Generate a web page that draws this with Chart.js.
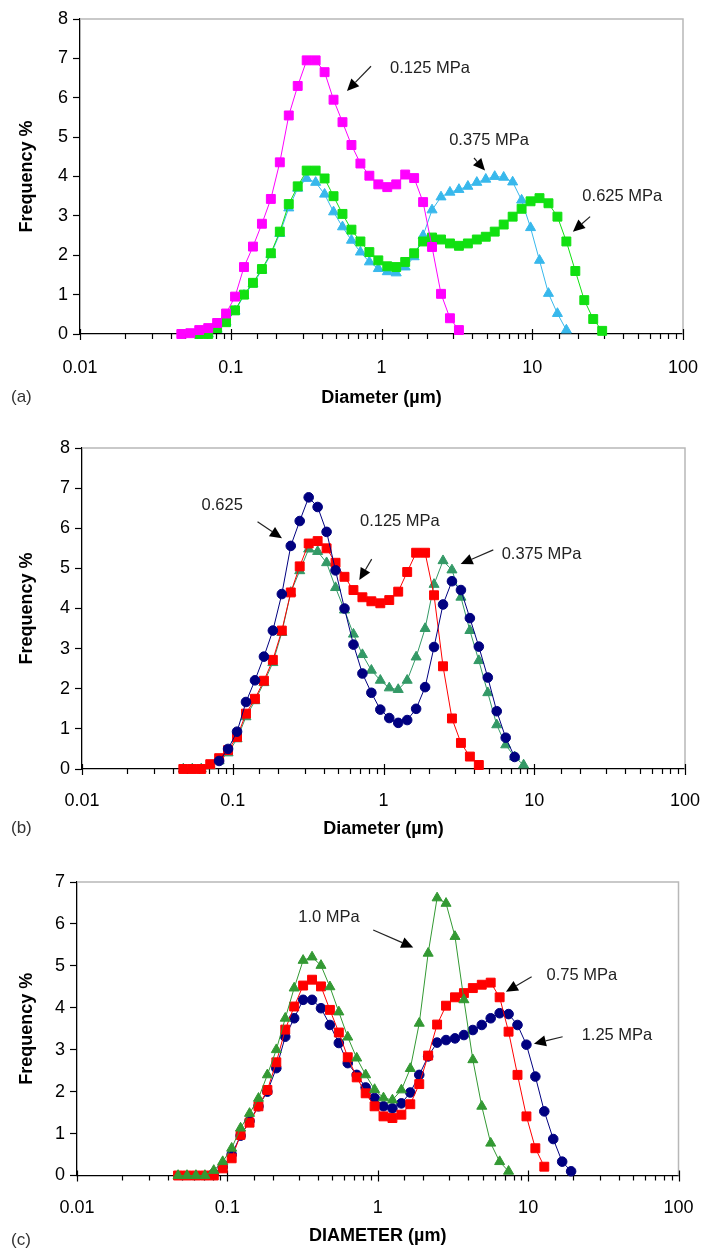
<!DOCTYPE html>
<html>
<head>
<meta charset="utf-8">
<script src="https://cdn.jsdelivr.net/npm/chart.js@4.4.0/dist/chart.umd.min.js"></script>
<style>
  html, body { margin: 0; padding: 0; background: #fff; }
  body { width: 702px; height: 1250px; position: relative; overflow: hidden; }
  canvas { position: absolute; left: 0; }
</style>
</head>
<body>
<canvas id="chartA" width="702" height="420" style="top:0px"></canvas>
<canvas id="chartB" width="702" height="420" style="top:425px"></canvas>
<canvas id="chartC" width="702" height="400" style="top:850px"></canvas>
<script>
// particle size classes (µm), shared by all three panels
const diameters = [0.047, 0.0539, 0.0618, 0.0709, 0.0812, 0.0931, 0.1068, 0.1224, 0.1404, 0.161,
    0.1845, 0.2116, 0.2426, 0.2781, 0.3189, 0.3657, 0.4193, 0.4807, 0.5511, 0.6319,
    0.7246, 0.8308, 0.9526, 1.092, 1.252, 1.436, 1.646, 1.888, 2.164, 2.482,
    2.845, 3.263, 3.741, 4.289, 4.918, 5.638, 6.465, 7.413, 8.499, 9.743,
    11.17, 12.81, 14.69, 16.84, 19.31, 22.14, 25.38, 29.1];

const xTickLabels = ['0.01', '0.1', '1', '10', '100'];

// (a)
const a125 = [0, 0.02, 0.1, 0.15, 0.28, 0.52, 0.95, 1.7, 2.22, 2.8, 3.43, 4.36, 5.55, 6.3, 6.95, 6.95,
    6.65, 5.95, 5.38, 4.8, 4.33, 4.02, 3.8, 3.73, 3.8, 4.05, 3.96, 3.35, 2.21, 1.02, 0.4, 0.1,
    null, null, null, null, null, null, null, null, null, null, null, null, null, null, null, null];
const a375 = [null, null, null, 0, 0.12, 0.3, 0.58, 0.98, 1.27, 1.62, 2.02, 2.55, 3.2, 3.7, 3.95, 3.85,
    3.55, 3.1, 2.72, 2.38, 2.08, 1.83, 1.66, 1.58, 1.55, 1.7, 1.96, 2.5, 3.15, 3.48, 3.6, 3.67,
    3.75, 3.85, 3.93, 4.0, 3.98, 3.86, 3.4, 2.7, 1.87, 1.03, 0.52, 0.1, null, null, null, null];
const a625 = [null, null, 0, 0, 0.15, 0.3, 0.6, 1.0, 1.3, 1.65, 2.05, 2.6, 3.3, 3.75, 4.15, 4.15,
    3.95, 3.5, 3.05, 2.65, 2.35, 2.08, 1.87, 1.72, 1.7, 1.83, 2.05, 2.35, 2.45, 2.4, 2.3, 2.24,
    2.3, 2.4, 2.47, 2.6, 2.78, 2.98, 3.18, 3.37, 3.45, 3.32, 2.98, 2.35, 1.6, 0.86, 0.38, 0.08];

// (b)
const b125 = [0, 0, 0, 0.12, 0.27, 0.47, 0.8, 1.38, 1.75, 2.2, 2.72, 3.45, 4.4, 5.05, 5.62, 5.68,
    5.5, 5.14, 4.79, 4.46, 4.28, 4.18, 4.13, 4.21, 4.42, 4.91, 5.39, 5.39, 4.33, 2.56, 1.26, 0.65,
    0.31, 0.1, null, null, null, null, null, null, null, null, null, null, null, null, null, null];
const b375 = [0, 0, 0, 0.08, 0.2, 0.4, 0.75, 1.3, 1.7, 2.15, 2.65, 3.4, 4.4, 4.94, 5.48, 5.42,
    5.14, 4.52, 3.96, 3.36, 2.85, 2.46, 2.21, 2.02, 1.98, 2.21, 2.79, 3.5, 4.6, 5.19, 4.96, 4.28,
    3.45, 2.7, 1.9, 1.1, 0.6, 0.3, 0.1, null, null, null, null, null, null, null, null, null];
const b625 = [null, null, null, null, 0.2, 0.5, 0.93, 1.67, 2.21, 2.8, 3.45, 4.36, 5.56, 6.18, 6.77, 6.53,
    5.91, 4.95, 4.0, 3.1, 2.38, 1.9, 1.48, 1.27, 1.15, 1.22, 1.5, 2.04, 3.04, 4.1, 4.68, 4.46,
    3.76, 3.05, 2.28, 1.44, 0.78, 0.3, null, null, null, null, null, null, null, null, null, null];

// (c)
const c075 = [0, 0, 0, 0, 0, 0.17, 0.41, 0.97, 1.26, 1.65, 2.04, 2.7, 3.48, 4.03, 4.53, 4.67,
    4.51, 3.95, 3.41, 2.82, 2.34, 1.96, 1.65, 1.41, 1.37, 1.45, 1.7, 2.18, 2.86, 3.6, 4.05, 4.25,
    4.35, 4.47, 4.55, 4.6, 4.25, 3.43, 2.4, 1.41, 0.65, 0.21, null, null, null, null, null, null];
const c100 = [0, 0, 0, 0, 0.12, 0.33, 0.65, 1.13, 1.48, 1.84, 2.4, 3.0, 3.75, 4.47, 5.13, 5.21,
    5.01, 4.5, 3.9, 3.3, 2.8, 2.4, 2.05, 1.85, 1.8, 2.04, 2.55, 3.63, 5.3, 6.62, 6.49, 5.7,
    4.19, 2.76, 1.65, 0.77, 0.33, 0.1, null, null, null, null, null, null, null, null, null, null];
const c125 = [null, null, null, null, 0.05, 0.2, 0.5, 0.95, 1.3, 1.65, 2.0, 2.56, 3.31, 3.75, 4.19, 4.19,
    3.99, 3.59, 3.16, 2.68, 2.4, 2.1, 1.85, 1.65, 1.6, 1.72, 1.98, 2.4, 2.84, 3.17, 3.23, 3.27,
    3.35, 3.47, 3.59, 3.75, 3.87, 3.85, 3.59, 3.12, 2.36, 1.53, 0.87, 0.33, 0.1, null, null, null];

const FONT = "'Liberation Sans', Arial, sans-serif";

function toPoints(values) {
    const pts = [];
    values.forEach((v, i) => { if (v !== null) pts.push({ x: diameters[i], y: v }); });
    return pts;
}

function xLabel(v) {
    const lg = Math.log10(v), k = Math.round(lg);
    return Math.abs(lg - k) < 1e-6 ? xTickLabels[k + 2] : '';
}

function drawArrow(ctx, x0, y0, x1, y1) {
    const ang = Math.atan2(y1 - y0, x1 - x0), len = 12, half = 5.5;
    const bx = x1 - Math.cos(ang) * len, by = y1 - Math.sin(ang) * len;
    ctx.beginPath(); ctx.moveTo(x0, y0); ctx.lineTo(bx, by); ctx.stroke();
    ctx.beginPath();
    ctx.moveTo(x1, y1);
    ctx.lineTo(bx + Math.sin(ang) * half, by - Math.cos(ang) * half);
    ctx.lineTo(bx - Math.sin(ang) * half, by + Math.cos(ang) * half);
    ctx.closePath(); ctx.fill();
}

const decor = {
    id: 'decor',
    beforeDatasetsDraw(chart) {
        const { ctx, chartArea: ca, scales: { x } } = chart;
        ctx.save();
        // light grey frame on top and right
        ctx.strokeStyle = '#b8b8b8'; ctx.lineWidth = 1.5;
        ctx.beginPath();
        ctx.moveTo(ca.left, ca.top); ctx.lineTo(ca.right, ca.top); ctx.lineTo(ca.right, ca.bottom);
        ctx.stroke();
        // x ticks: decades cross the axis, minor ones hang below
        ctx.strokeStyle = '#000'; ctx.lineWidth = 1.2;
        x.ticks.forEach(t => {
            const px = Math.round(x.getPixelForValue(t.value)) + 0.5;
            const major = xLabel(t.value) !== '';
            ctx.beginPath();
            ctx.moveTo(px, ca.bottom + (major ? -5 : 0));
            ctx.lineTo(px, ca.bottom + (major ? 6 : 5));
            ctx.stroke();
        });
        ctx.restore();
    },
    afterDraw(chart, args, opts) {
        const { ctx, scales: { x, y } } = chart;
        ctx.save();
        ctx.strokeStyle = '#222'; ctx.lineWidth = 1.2;
        ctx.textAlign = 'left'; ctx.textBaseline = 'middle';
        opts.notes.forEach(n => {
            ctx.font = '16.5px ' + FONT; ctx.fillStyle = '#222';
            ctx.fillText(n.text, x.getPixelForValue(n.at[0]), y.getPixelForValue(n.at[1]));
            ctx.fillStyle = '#000';
            drawArrow(ctx, x.getPixelForValue(n.from[0]), y.getPixelForValue(n.from[1]),
                           x.getPixelForValue(n.to[0]), y.getPixelForValue(n.to[1]));
        });
        ctx.font = '17px ' + FONT; ctx.fillStyle = '#333';
        ctx.fillText(opts.letter, 11, opts.letterY);
        ctx.restore();
    }
};

function makePanel(id, p) {
    return new Chart(document.getElementById(id), {
        type: 'line',
        data: {
            datasets: p.sets.map(s => ({
                data: toPoints(s.values),
                borderColor: s.color, backgroundColor: s.color,
                pointBackgroundColor: s.color, pointBorderColor: s.color,
                pointStyle: s.marker, pointRadius: s.radius, pointBorderWidth: 1,
                borderWidth: 1, tension: 0, fill: false, clip: false
            }))
        },
        options: {
            responsive: false, animation: false, devicePixelRatio: 1,
            layout: { padding: { top: p.top, right: p.right, left: 0, bottom: 0 } },
            plugins: {
                legend: { display: false }, tooltip: { enabled: false },
                decor: { notes: p.notes, letter: p.letter, letterY: p.letterY }
            },
            scales: {
                x: {
                    type: 'logarithmic', min: 0.01, max: 100,
                    // fixed band height; end labels may hang into the page margin
                    afterFit: s => { s.height = p.xHeight; s.paddingLeft = 0; s.paddingRight = 0; },
                    grid: { display: false },
                    border: { color: '#000', width: 1.3 },
                    ticks: { autoSkip: false, maxRotation: 0, padding: p.tickPad, color: '#000',
                             font: { family: FONT, size: 18 }, callback: v => xLabel(v) },
                    title: { display: true, text: p.xTitle, color: '#000',
                             font: { family: FONT, size: 18, weight: 'bold' },
                             padding: { top: 0, bottom: p.titlePad } }
                },
                y: {
                    min: 0, max: p.yMax,
                    afterFit: s => { s.width = p.left; },
                    grid: { drawOnChartArea: false, drawTicks: true, tickLength: 7, tickColor: '#000', tickWidth: 1.2 },
                    border: { color: '#000', width: 1.3 },
                    ticks: { stepSize: 1, padding: 5, color: '#000', font: { family: FONT, size: 18 } },
                    title: { display: true, text: 'Frequency %', color: '#000',
                             font: { family: FONT, size: 18, weight: 'bold' },
                             padding: { top: 16, bottom: 0 } }
                }
            }
        },
        plugins: [decor]
    });
}

makePanel('chartA', {
    top: 19, right: 19, left: 80, xHeight: 86, tickPad: 15, titlePad: 11, yMax: 8,
    xTitle: 'Diameter (µm)', letter: '(a)', letterY: 397,
    sets: [
        { values: a125, color: '#ff00ff', marker: 'rect', radius: 6.3 },
        { values: a625, color: '#11e011', marker: 'rect', radius: 6.3 },
        { values: a375, color: '#38b8ec', marker: 'triangle', radius: 5.8 }
    ],
    notes: [
        { text: '0.125 MPa', at: [1.14, 6.75], from: [0.852, 6.8], to: [0.59, 6.17] },
        { text: '0.375 MPa', at: [2.81, 4.92], from: [4.11, 4.47], to: [4.86, 4.15] },
        { text: '0.625 MPa', at: [21.5, 3.5], from: [24.2, 2.98], to: [18.6, 2.6] }
    ]
});

makePanel('chartB', {
    top: 23, right: 17, left: 82, xHeight: 76, tickPad: 13, titlePad: 5, yMax: 8,
    xTitle: 'Diameter (µm)', letter: '(b)', letterY: 403,
    sets: [
        { values: b625, color: '#000080', marker: 'circle', radius: 4.8 },
        { values: b125, color: '#ff0000', marker: 'rect', radius: 6.3 },
        { values: b375, color: '#339966', marker: 'triangle', radius: 5.8 }
    ],
    notes: [
        { text: '0.625', at: [0.0621, 6.56], from: [0.146, 6.16], to: [0.212, 5.75] },
        { text: '0.125 MPa', at: [0.698, 6.18], from: [0.835, 5.23], to: [0.691, 4.71] },
        { text: '0.375 MPa', at: [6.08, 5.34], from: [5.35, 5.46], to: [3.25, 5.11] }
    ]
});

makePanel('chartC', {
    top: 32, right: 23.5, left: 77, xHeight: 74.5, tickPad: 14, titlePad: 3, yMax: 7,
    xTitle: 'DIAMETER (µm)', letter: '(c)', letterY: 390,
    sets: [
        { values: c100, color: '#339933', marker: 'triangle', radius: 5.8 },
        { values: c075, color: '#ff0000', marker: 'rect', radius: 6.3 },
        { values: c125, color: '#000080', marker: 'circle', radius: 4.8 }
    ],
    notes: [
        { text: '1.0 MPa', at: [0.296, 6.16], from: [0.933, 5.855], to: [1.722, 5.44] },
        { text: '0.75 MPa', at: [13.27, 4.76], from: [10.55, 4.74], to: [7.12, 4.38] },
        { text: '1.25 MPa', at: [22.7, 3.33], from: [16.96, 3.31], to: [10.93, 3.14] }
    ]
});
</script>
</body>
</html>
